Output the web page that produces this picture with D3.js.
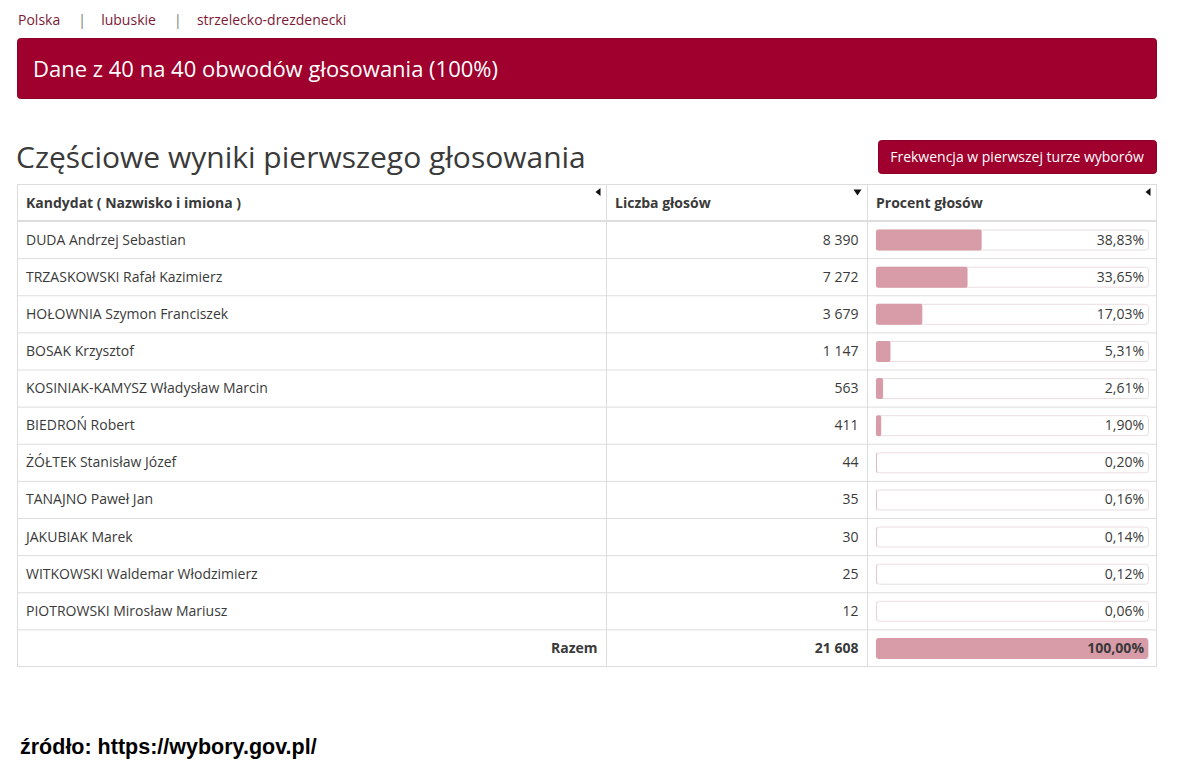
<!DOCTYPE html>
<html lang="pl">
<head>
  <meta charset="UTF-8">
  <script src="https://cdn.jsdelivr.net/npm/d3@7"></script>
  <title>Wyniki</title>
  <style>
    body { margin: 0; background: #fff; }
    svg { display: block; }
  </style>
</head>
<body>
  <svg></svg>
</body>
<script>
const width = 1182;
const height = 766;

// dane
const breadcrumbs = ['Polska', 'lubuskie', 'strzelecko-drezdenecki'];
const columns = ['Kandydat ( Nazwisko i imiona )', 'Liczba głosów', 'Procent głosów'];
const candidates = [
  'DUDA Andrzej Sebastian',
  'TRZASKOWSKI Rafał Kazimierz',
  'HOŁOWNIA Szymon Franciszek',
  'BOSAK Krzysztof',
  'KOSINIAK-KAMYSZ Władysław Marcin',
  'BIEDROŃ Robert',
  'ŻÓŁTEK Stanisław Józef',
  'TANAJNO Paweł Jan',
  'JAKUBIAK Marek',
  'WITKOWSKI Waldemar Włodzimierz',
  'PIOTROWSKI Mirosław Mariusz'
];
const votes = [8390, 7272, 3679, 1147, 563, 411, 44, 35, 30, 25, 12];
const percents = [38.83, 33.65, 17.03, 5.31, 2.61, 1.90, 0.20, 0.16, 0.14, 0.12, 0.06];
const totalLabel = 'Razem';
const totalVotes = 21608;
const totalPercent = 100;

const red = '#9f002d';
const border = '#dddddd';
const textColor = '#3a3a3a';
const barColor = '#d89ba8';
const font = '"Open Sans", sans-serif';

const pl = d3.formatLocale({ decimal: ',', thousands: '\u00a0', grouping: [3], currency: ['', ''] });
const fmtVotes = pl.format(',d');
const fmtPct = v => pl.format('.2f')(v) + '%';

const rows = candidates.map((name, i) => ({ name, votes: votes[i], pct: percents[i], total: false }));
rows.push({ name: totalLabel, votes: totalVotes, pct: totalPercent, total: true });

const svg = d3.select('svg').attr('width', width).attr('height', height)
  .style('font-family', font);

// okruszki
const crumbLayer = svg.append('g').attr('transform', 'translate(18, 25)');
let cx = 0;
breadcrumbs.forEach((b, i) => {
  const t = crumbLayer.append('text').attr('x', cx).attr('font-size', 14).attr('fill', '#7b1a36').text(b);
  cx += t.node().getComputedTextLength();
  if (i < breadcrumbs.length - 1) {
    crumbLayer.append('text').attr('x', cx + 18).attr('font-size', 14).attr('fill', '#777').text('|');
    cx += 41;
  }
});

// baner
svg.append('rect').attr('x', 17.5).attr('y', 38.5).attr('width', 1139).attr('height', 60)
  .attr('rx', 3).attr('fill', red).attr('stroke', '#8a0027');
svg.append('text').attr('x', 33).attr('y', 77).attr('font-size', 22).attr('fill', '#fff')
  .text('Dane z 40 na 40 obwodów głosowania (100%)');

// tytuł
svg.append('text').attr('x', 16).attr('y', 168).attr('font-size', 30).attr('fill', textColor)
  .text('Częściowe wyniki pierwszego głosowania');

// przycisk
svg.append('rect').attr('x', 878.5).attr('y', 140.5).attr('width', 278).attr('height', 33)
  .attr('rx', 3).attr('fill', red).attr('stroke', '#8a0027');
svg.append('text').attr('x', 1017).attr('y', 162).attr('font-size', 14).attr('fill', '#fff')
  .attr('text-anchor', 'middle').text('Frekwencja w pierwszej turze wyborów');

// tabela
const tableLeft = 17.5, tableRight = 1156.5;
const colX = [tableLeft, 606.5, 867.5, tableRight];
const headTop = 184.5, headBottom = 221;
const yScale = d3.scaleBand().domain(rows.map(r => r.name)).range([headBottom, 666.5]);
const barX = d3.scaleLinear().domain([0, 100]).range([876, 1148]);

const table = svg.append('g');

// nagłówek
table.append('rect').attr('x', tableLeft).attr('y', headTop).attr('width', tableRight - tableLeft)
  .attr('height', 666.5 - headTop).attr('fill', 'none').attr('stroke', border);
table.append('line').attr('x1', tableLeft).attr('x2', tableRight).attr('y1', headBottom).attr('y2', headBottom)
  .attr('stroke', border).attr('stroke-width', 2);
colX.slice(1, 3).forEach(x => {
  table.append('line').attr('x1', x).attr('x2', x).attr('y1', headTop).attr('y2', 666.5).attr('stroke', border);
});
columns.forEach((c, i) => {
  table.append('text').attr('x', colX[i] + 8.5).attr('y', 208).attr('font-size', 14)
    .attr('font-weight', 700).attr('fill', textColor).text(c);
});
// ikony sortowania
const sortIcons = [
  { x: colX[1] - 9, dir: 'left' },
  { x: colX[2] - 10, dir: 'down' },
  { x: colX[3] - 9, dir: 'left' }
];
sortIcons.forEach(s => {
  const y = 192;
  const p = s.dir === 'left'
    ? `M${s.x + 3},${y - 4}L${s.x + 3},${y + 4}L${s.x - 2},${y}Z`
    : `M${s.x - 4},${y - 2.5}L${s.x + 4},${y - 2.5}L${s.x},${y + 3.5}Z`;
  table.append('path').attr('d', p).attr('fill', '#111');
});

// wiersze
const rowG = table.selectAll('g.row').data(rows).enter().append('g').attr('class', 'row')
  .attr('transform', d => `translate(0, ${yScale(d.name)})`);
const bh = yScale.bandwidth();

rowG.filter((d, i) => i > 0).append('line')
  .attr('x1', tableLeft).attr('x2', tableRight).attr('y1', 0.5).attr('y2', 0.5).attr('stroke', border);

rowG.append('text')
  .attr('x', d => d.total ? colX[1] - 9 : colX[0] + 8.5)
  .attr('y', bh / 2 + 5)
  .attr('text-anchor', d => d.total ? 'end' : 'start')
  .attr('font-size', 14)
  .attr('font-weight', d => d.total ? 700 : 400)
  .attr('fill', textColor)
  .text(d => d.name);

rowG.append('text')
  .attr('x', colX[2] - 9)
  .attr('y', bh / 2 + 5)
  .attr('text-anchor', 'end')
  .attr('font-size', 14)
  .attr('font-weight', d => d.total ? 700 : 400)
  .attr('fill', textColor)
  .text(d => fmtVotes(d.votes));

// paski
rowG.append('rect')
  .attr('x', barX(0) + 0.5).attr('y', bh / 2 - 10 + 0.5)
  .attr('width', barX(100) - barX(0)).attr('height', 20)
  .attr('rx', 3).attr('fill', '#fff').attr('stroke', '#eadde1');
rowG.append('rect')
  .attr('x', barX(0)).attr('y', bh / 2 - 10)
  .attr('width', d => barX(d.pct) - barX(0)).attr('height', 21)
  .attr('rx', d => d.total ? 3 : 2).attr('fill', barColor);
rowG.append('text')
  .attr('x', barX(100) - 4)
  .attr('y', bh / 2 + 5)
  .attr('text-anchor', 'end')
  .attr('font-size', 14)
  .attr('font-weight', d => d.total ? 700 : 400)
  .attr('fill', textColor)
  .text(d => fmtPct(d.pct));

// źródło
svg.append('text').attr('x', 20).attr('y', 754)
  .attr('font-family', '"Liberation Sans", Arial, sans-serif').attr('font-weight', 700)
  .attr('font-size', 21.5).attr('fill', '#000')
  .text('źródło: https://wybory.gov.pl/');
</script>
</html>
